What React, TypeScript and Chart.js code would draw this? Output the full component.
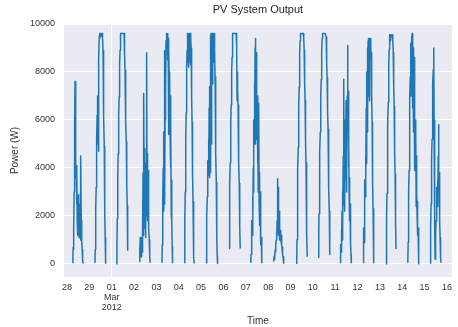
import { useEffect, useRef } from "react";
import { Chart, registerables } from "chart.js";

Chart.register(...registerables);

// ---- tick labels ----
const dayTicks = ["28", "29", "01", "02", "03", "04", "05", "06", "07", "08", "09", "10", "11", "12", "13", "14", "15", "16"];
const monthLabel = "Mar";
const yearLabel = "2012";
const monthStartIndex = 2;
const yTicks = [0, 2000, 4000, 6000, 8000, 10000];

// ---- sampling: slots of 20 minutes starting 05:20 each day ----
const firstSlotMinutes = 320;
const slotMinutes = 20;
const dayStartSlot = [2, 2, 0, 1, 2, 2, 0, 2, 0, 2, 4, 2, 0, 2, 4, 2, 2];

// ---- series values (W) per day ----
const feb28 = [50, 300, 700, 600, 1500, 3000, 4200, 5800, 7600, 4000, 5400, 3600, 4100, 2500, 3800, 1800, 2800, 1200, 2600, 1500, 2900, 1100, 2200, 1300, 2500, 1000, 2000, 4500, 1800, 1300, 900, 600, 350, 150, 20];
const feb29 = [50, 600, 1400, 2300, 3200, 4200, 5200, 6200, 7000, 5000, 6800, 4700, 7100, 8500, 9500, 9600, 9400, 9600, 9500, 9600, 9600, 9550, 9600, 9500, 9600, 9400, 8900, 8200, 7200, 6100, 4900, 3600, 2300, 1100, 250, 30];
const mar01 = [0, 940, 1880, 2800, 3700, 4580, 5420, 6220, 6970, 7680, 8330, 8910, 9430, 9600, 9600, 9600, 9600, 9600, 9600, 9600, 9600, 9600, 9600, 9600, 9600, 9230, 8680, 8070, 7400, 6680, 5910, 5080, 4230, 3350, 2430, 1510, 570];
const mar02 = [100, 300, 500, 1100, 400, 800, 300, 1100, 600, 1000, 500, 1500, 3800, 1200, 4500, 7100, 2500, 4800, 1500, 3500, 1100, 4200, 2000, 4900, 8800, 3000, 4600, 1800, 3900, 2400, 3000, 1500, 1000, 600, 300, 50];
const mar03 = [50, 800, 1800, 2800, 4000, 5500, 2200, 2900, 8900, 2500, 6000, 8800, 7000, 9300, 8800, 9500, 9600, 9200, 9600, 8500, 9400, 5400, 9000, 7800, 6000, 8000, 5600, 7000, 4000, 5800, 2000, 3500, 1800, 700, 50];
const mar04 = [50, 800, 1900, 3000, 4100, 5200, 6300, 7300, 8200, 8900, 9400, 9600, 8600, 9600, 8200, 9500, 8400, 9600, 8700, 9600, 8300, 9400, 9000, 8000, 7000, 5900, 4800, 3700, 2600, 1600, 800, 250, 20];
const mar05 = [50, 500, 1200, 2000, 2800, 3500, 4300, 3700, 5200, 4000, 6500, 3600, 7400, 4200, 9500, 3800, 9600, 5000, 9600, 8000, 9600, 7500, 9600, 8400, 9500, 9600, 8800, 9600, 8900, 7800, 6900, 5800, 4600, 3400, 2200, 1100, 300, 20];
const mar06 = [650, 1570, 2470, 3360, 4230, 5060, 5860, 6630, 7340, 8010, 8610, 9150, 9600, 9600, 9600, 9600, 9600, 9600, 9600, 9600, 9600, 9600, 9600, 9600, 9600, 9150, 6800, 8000, 7340, 6630, 5860, 5060, 4230, 3360, 2470, 1570, 650];
const mar07 = [50, 400, 1000, 600, 1800, 1200, 2800, 2000, 4000, 3000, 6000, 5000, 7500, 6200, 9000, 9400, 5000, 8800, 5600, 8000, 5200, 7000, 4200, 5500, 3000, 4000, 6700, 2500, 3800, 1600, 3000, 1200, 2000, 800, 1100, 400, 50];
const mar08 = [100, 300, 200, 400, 300, 600, 500, 800, 1000, 1300, 1000, 1800, 2600, 3550, 1500, 3200, 1200, 2200, 1500, 1000, 1500, 1200, 1400, 1000, 900, 1200, 800, 600, 700, 400, 300, 200, 100, 50, 20];
const mar09 = [0, 1010, 2000, 2980, 3940, 4860, 5750, 6570, 7360, 8080, 8730, 9300, 9600, 9600, 9600, 9600, 9600, 9600, 9600, 9600, 9600, 9600, 9600, 9460, 8910, 8280, 7580, 6820, 6000, 5130, 4220, 3270, 2300, 1310, 300];
const mar10 = [270, 1190, 2100, 2980, 3850, 4700, 5500, 6280, 7010, 7690, 8320, 8890, 9400, 9600, 9600, 9600, 9600, 9600, 9600, 9600, 9600, 9600, 9600, 9600, 9600, 9460, 8950, 8400, 7780, 7100, 6390, 5620, 4810, 3980, 3100, 2210, 1320, 400];
const mar11 = [50, 300, 800, 500, 1400, 700, 2200, 1000, 3000, 1800, 4500, 2500, 7700, 3000, 5500, 2200, 6000, 3500, 4800, 6800, 3000, 6200, 4500, 7000, 9100, 5500, 7200, 4000, 5000, 2800, 3600, 1800, 2500, 1200, 800, 400, 50];
const mar12 = [50, 600, 1500, 900, 2500, 1800, 3500, 2800, 4500, 3600, 6500, 4200, 8000, 5500, 9000, 6500, 9300, 7000, 9400, 8200, 9400, 6800, 9300, 8600, 9400, 9000, 8800, 8000, 7000, 5900, 4700, 3500, 2300, 1200, 400, 50];
const mar13 = [0, 850, 1910, 2950, 3960, 4940, 5860, 6740, 7560, 8290, 8950, 9500, 9550, 9550, 9500, 9300, 9500, 9550, 9550, 9500, 9550, 9500, 9400, 8810, 8140, 7370, 6560, 5670, 4720, 3740, 2720, 1680, 620];
const mar14 = [50, 900, 1900, 2900, 3900, 4900, 5900, 6900, 7800, 8600, 9200, 7000, 9500, 8000, 9600, 6500, 9500, 7200, 9000, 5500, 8600, 4500, 7500, 3900, 6000, 4200, 5500, 2400, 4500, 3000, 2000, 2600, 1200, 1500, 500, 150, 10];
const mar15 = [30, 700, 1600, 2500, 3400, 4300, 5200, 6000, 6800, 7500, 8100, 8600, 9000, 4900, 6000, 1500, 200, 400, 1200, 1800, 2600, 1900, 3200, 2400, 3500, 2800, 4500, 5800, 3200, 3800, 2400, 1800, 1100, 600, 250, 50];

const days = [feb28, feb29, mar01, mar02, mar03, mar04, mar05, mar06, mar07, mar08, mar09, mar10, mar11, mar12, mar13, mar14, mar15];

const titleText = "PV System Output";
const FONT = '"Liberation Sans", Arial, Helvetica, sans-serif';

export default function App() {
  const ref = useRef<HTMLCanvasElement>(null);

  useEffect(() => {
    if (!ref.current) return;
    const pts: { x: number; y: number | null }[] = [];
    days.forEach((vals, d) => {
      vals.forEach((v, k) => {
        const minutes = firstSlotMinutes + (dayStartSlot[d] + k) * slotMinutes;
        pts.push({ x: d + minutes / 1440, y: v });
      });
      pts.push({ x: d + 0.9, y: null });
    });

    const decor = {
      id: "decor",
      beforeDraw(chart: any) {
        const { ctx, chartArea } = chart;
        ctx.save();
        ctx.fillStyle = "#eaeaf2";
        ctx.fillRect(chartArea.left, chartArea.top, chartArea.right - chartArea.left, chartArea.bottom - chartArea.top);
        ctx.restore();
      },
      afterDraw(chart: any) {
        const { ctx, chartArea } = chart;
        ctx.save();
        ctx.font = `11px ${FONT}`;
        ctx.fillStyle = "#262626";
        ctx.textAlign = "center";
        ctx.textBaseline = "middle";
        ctx.fillText(titleText, (chartArea.left + chartArea.right) / 2, 10);
        ctx.restore();
      },
    };

    Chart.defaults.font.family = FONT;

    const chart = new Chart(ref.current, {
      type: "line",
      data: {
        datasets: [
          {
            data: pts as any,
            borderColor: "#1f77b4",
            borderWidth: 1.5,
            borderJoinStyle: "round",
            borderCapStyle: "butt",
            pointRadius: 0,
            tension: 0,
            fill: false,
            spanGaps: false,
          },
        ],
      },
      options: {
        responsive: false,
        animation: false,
        layout: { padding: { top: 24, right: 5, left: 0, bottom: 0 } },
        plugins: { legend: { display: false }, tooltip: { enabled: false }, title: { display: false } },
        scales: {
          x: {
            type: "linear",
            min: -0.134,
            max: 17.22,
            afterBuildTicks: (s: any) => {
              s.ticks = dayTicks.map((_, i) => ({ value: i }));
            },
            afterFit: (s: any) => {
              s.height = 50;
            },
            grid: {
              color: (c: any) => (c.tick && c.tick.value === monthStartIndex ? "#ffffff" : "rgba(0,0,0,0)"),
              drawTicks: false,
              lineWidth: 1,
            },
            border: { display: false },
            ticks: {
              autoSkip: false,
              maxRotation: 0,
              padding: 6,
              color: "#333333",
              font: { size: 9, lineHeight: 1.1 },
              callback: (v: any) => {
                const i = Math.round(Number(v));
                return i === monthStartIndex ? [dayTicks[i], monthLabel, yearLabel] : dayTicks[i];
              },
            },
            title: { display: true, text: "Time", color: "#333333", font: { size: 10 }, padding: { top: 0, bottom: 0 } },
          },
          y: {
            type: "linear",
            min: -542,
            max: 10000,
            afterBuildTicks: (s: any) => {
              s.ticks = yTicks.map((v) => ({ value: v }));
            },
            afterFit: (s: any) => {
              s.width = 64;
            },
            grid: { color: "#ffffff", lineWidth: 1, drawTicks: false },
            border: { display: false },
            ticks: { padding: 9, color: "#333333", font: { size: 9 }, callback: (v: any) => String(v) },
            title: { display: true, text: "Power (W)", color: "#333333", font: { size: 10 }, padding: { top: 9, bottom: 0 } },
          },
        },
      },
      plugins: [decor],
    });
    return () => chart.destroy();
  }, []);

  return (
    <div style={{ position: "absolute", left: 0, top: 0, width: 458, height: 327 }}>
      <canvas ref={ref} width={458} height={327} style={{ display: "block" }} />
    </div>
  );
}
